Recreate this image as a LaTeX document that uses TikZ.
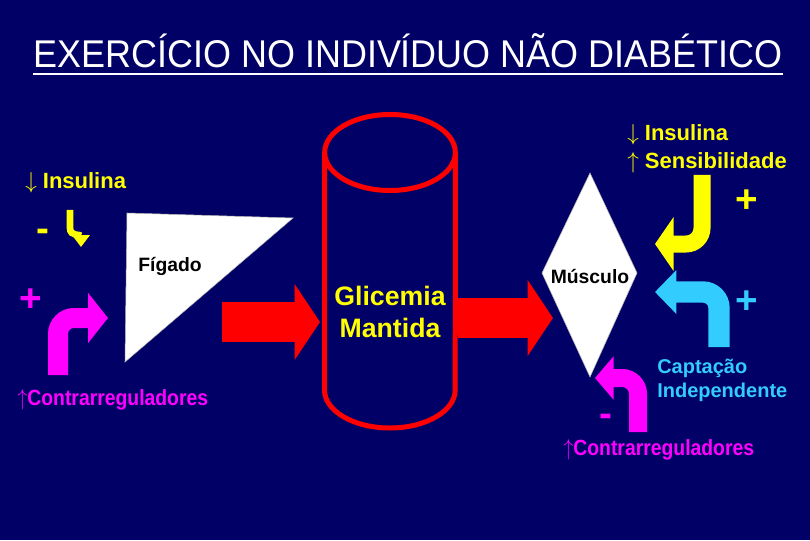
\documentclass[tikz,border=0pt]{standalone}
\usepackage{fontspec}
\setmainfont{Liberation Sans}
\usepackage{xcolor}
\usepackage{tikz}
\usetikzlibrary{arrows.meta}

\definecolor{fundo}{RGB}{0,0,102}
\definecolor{amarelo}{RGB}{255,255,0}
\definecolor{rosa}{RGB}{255,0,255}
\definecolor{azulclaro}{RGB}{51,204,255}
\definecolor{vermelho}{RGB}{255,0,0}

\begin{document}
\begin{tikzpicture}[x=0.75pt, y=0.75pt,
  rot/.style={inner sep=0pt, font=\fontsize{16.5}{19}\selectfont\bfseries},
  rotp/.style={inner sep=0pt, font=\fontsize{14.5}{17}\selectfont\bfseries},
  sinal/.style={inner sep=0pt, font=\fontsize{29}{30}\selectfont\bfseries},
  fluxo/.style={vermelho, line width=30pt, -{Triangle[width=56pt, length=19pt]}},
  curva/.style={line width=#1, rounded corners=12pt}
]
  \fill[fundo] (0,0) rectangle (810,540);

  \node[inner sep=0pt, anchor=base, white, font=\fontsize{29}{32}\selectfont] (tit) at (408,472)
    {\scalebox{0.93}[1]{EXERCÍCIO NO INDIVÍDUO NÃO DIABÉTICO}};
  \draw[white, line width=2.2pt] ([yshift=-4pt]tit.south west) -- ([yshift=-4pt]tit.south east);

  % figado
  \coordinate (fg-a) at (127,327);
  \coordinate (fg-b) at (293,322);
  \coordinate (fg-c) at (125,178);
  \fill[white, draw=gray!60, line width=0.4pt] (fg-a) -- (fg-b) -- (fg-c) -- cycle;
  \node[rotp, anchor=base] (fig) at (170,269) {Fígado};

  \node[rot, anchor=base west, amarelo] (insE) at (25,351) {$\downarrow$\ Insulina};
  \node[sinal, amarelo] (menosE) at (43,305) {-};
  \coordinate (gancho) at (70,330);
  \draw[amarelo, line width=5pt, -{Triangle[width=13pt, length=9pt]}]
    (gancho) -- (70,312) .. controls (70,303) and (81,306) .. (81,293);

  \node[sinal, rosa] (maisE) at (31,240) {+};
  \coordinate (contE) at (58,165);
  \draw[rosa, curva=15pt, -{Triangle[width=37pt, length=15pt]}]
    (contE) -- (58,222) -- (108,222);
  \node[rot, anchor=base west, rosa] (crE) at (17,135)
    {\scalebox{0.88}[1]{$\uparrow$Contrarreguladores}};

  % cilindro
  \draw[vermelho, line width=3.75pt] (390,387.5) ellipse [x radius=49pt, y radius=28.5pt];
  \draw[vermelho, line width=3.75pt] (324.5,387.5) -- (324.5,150)
    arc [start angle=180, end angle=360, x radius=49pt, y radius=28.5pt] -- (455.5,387.5);
  \node[inner sep=0pt, amarelo, font=\fontsize{20}{24}\selectfont\bfseries, align=center] (gli) at (390,228)
    {Glicemia\\Mantida};
  \coordinate (cil-o) at (320,218);
  \coordinate (cil-l) at (458,222);

  \coordinate (fg-s) at (222,218);
  \draw[fluxo] (fg-s) -- (cil-o);

  % musculo
  \coordinate (mu-n) at (590,367);
  \coordinate (mu-o) at (542,267);
  \coordinate (mu-s) at (590,163);
  \coordinate (mu-l) at (637,267);
  \fill[white, draw=gray!60, line width=0.4pt] (mu-n) -- (mu-l) -- (mu-s) -- (mu-o) -- cycle;
  \node[rotp, anchor=base] (mus) at (590,257) {Músculo};
  \coordinate (mu-p) at (553,222);
  \draw[fluxo] (cil-l) -- (mu-p);

  \node[rot, anchor=base west, amarelo] (insD) at (627,399) {$\downarrow$\ Insulina};
  \node[rot, anchor=base west, amarelo] (sens) at (627,371) {$\uparrow$\ Sensibilidade};
  \node[sinal, amarelo] (maisA) at (747,339) {+};
  \coordinate (ins-b) at (702,365);
  \draw[amarelo, curva=12.75pt, -{Triangle[width=40pt, length=14pt]}]
    (ins-b) -- (702,296) -- (655,296);

  \node[sinal, azulclaro] (maisB) at (747,238) {+};
  \coordinate (cap-b) at (719,193);
  \draw[azulclaro, curva=16pt, -{Triangle[width=32pt, length=16pt]}]
    (cap-b) -- (719,248) -- (655,248);
  \node[inner sep=0pt, anchor=base west, azulclaro, font=\fontsize{15}{17}\selectfont\bfseries] (capt) at (657,167)
    {Captação};
  \node[inner sep=0pt, anchor=base west, azulclaro, font=\fontsize{15}{17}\selectfont\bfseries] (indep) at (657,143)
    {Independente};

  \node[sinal, rosa] (menosD) at (606,120) {-};
  \coordinate (contD) at (638,108);
  \draw[rosa, curva=13.5pt, -{Triangle[width=32pt, length=14pt]}]
    (contD) -- (638,162) -- (595,162);
  \node[rot, anchor=base west, rosa] (crD) at (563,85)
    {\scalebox{0.88}[1]{$\uparrow$Contrarreguladores}};
\end{tikzpicture}
\end{document}
